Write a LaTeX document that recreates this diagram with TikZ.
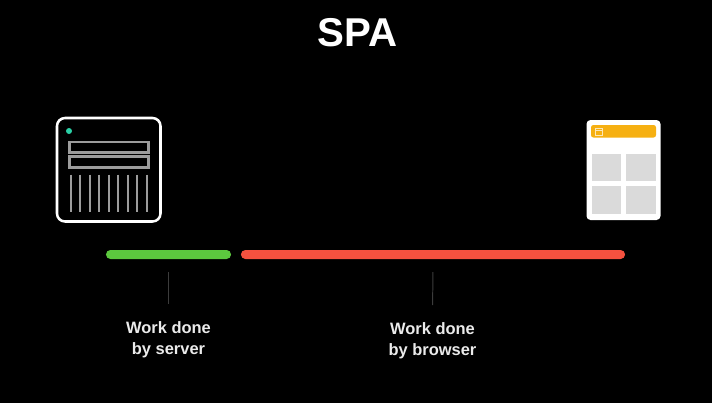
\documentclass[tikz,border=0pt]{standalone}
\usepackage{fontspec}
\setmainfont{Liberation Sans}
\definecolor{panelgrey}{HTML}{DADADA}
\definecolor{slotgrey}{HTML}{9C9C9C}
\definecolor{tickgrey}{HTML}{3C3C3C}
\definecolor{barorange}{HTML}{F6B012}
\definecolor{workgreen}{HTML}{5CC83E}
\definecolor{workred}{HTML}{F5513F}
\definecolor{ledteal}{HTML}{2BD0A6}
\tikzset{
  workbar/.style={inner sep=0pt, minimum height=0.225cm, rounded corners=0.11cm},
  worklabel/.style={text=white!92!black, align=center, inner sep=0pt, font=\fontsize{11.7}{14.9}\selectfont\bfseries},
  tickline/.style={draw=tickgrey, line width=0.7pt, shorten <=9.2pt},
  slot/.style={draw=slotgrey, line width=1.45pt},
}
\begin{document}
\begin{tikzpicture}[x=0.025cm,y=-0.025cm]

\fill[black] (0,0) rectangle (712,403);
\useasboundingbox (0,0) rectangle (712,403);

\node [text=white, font=\fontsize{28.6}{30}\selectfont\bfseries] (title) at (357.5,32.5) {SPA};

%server icon
\draw[white, line width=1.8pt, rounded corners=0.2cm] (57,118) rectangle (160.5,221.5);
\fill[ledteal] (69,131) circle (3);
\draw[slot] (69.5,142) rectangle (148.5,152.5);
\draw[slot] (69.5,156.5) rectangle (148.5,167.5);
\foreach \x in {0,...,8}
  \draw[slot] (71+9.45*\x,174.5) -- (71+9.45*\x,212);

%browser icon
\fill[white, rounded corners=0.1cm] (586.5,120) rectangle (660.5,220);
\fill[barorange, rounded corners=0.06cm] (591,125) rectangle (656,137.5);
\draw[white!70!barorange, line width=0.5pt] (595.5,128) rectangle (602.5,135);
\draw[white!70!barorange, line width=0.5pt] (595.5,130.5) -- (602.5,130.5);
\fill[panelgrey] (591.5,153.5) rectangle (620.5,180.5);
\fill[panelgrey] (626,153.5) rectangle (655.5,180.5);
\fill[panelgrey] (591.5,186) rectangle (620.5,213.5);
\fill[panelgrey] (626,186) rectangle (655.5,213.5);

%work bars
\node [workbar, fill=workgreen, minimum width=3.125cm] (serverbar) at (168.5,254.5) {};
\node [workbar, fill=workred, minimum width=9.6cm] (browserbar) at (433,254.5) {};

\node [worklabel] (serverlabel) at (168.5,339.5) {Work done\\by server};
\node [worklabel] (browserlabel) at (432.5,341) {Work done\\by browser};

\draw[tickline, shorten >=12.4pt] (serverbar.south) -- (serverlabel.north);
\draw[tickline, shorten >=12.4pt] (browserbar.south) -- (browserlabel.north);

\end{tikzpicture}
\end{document}
